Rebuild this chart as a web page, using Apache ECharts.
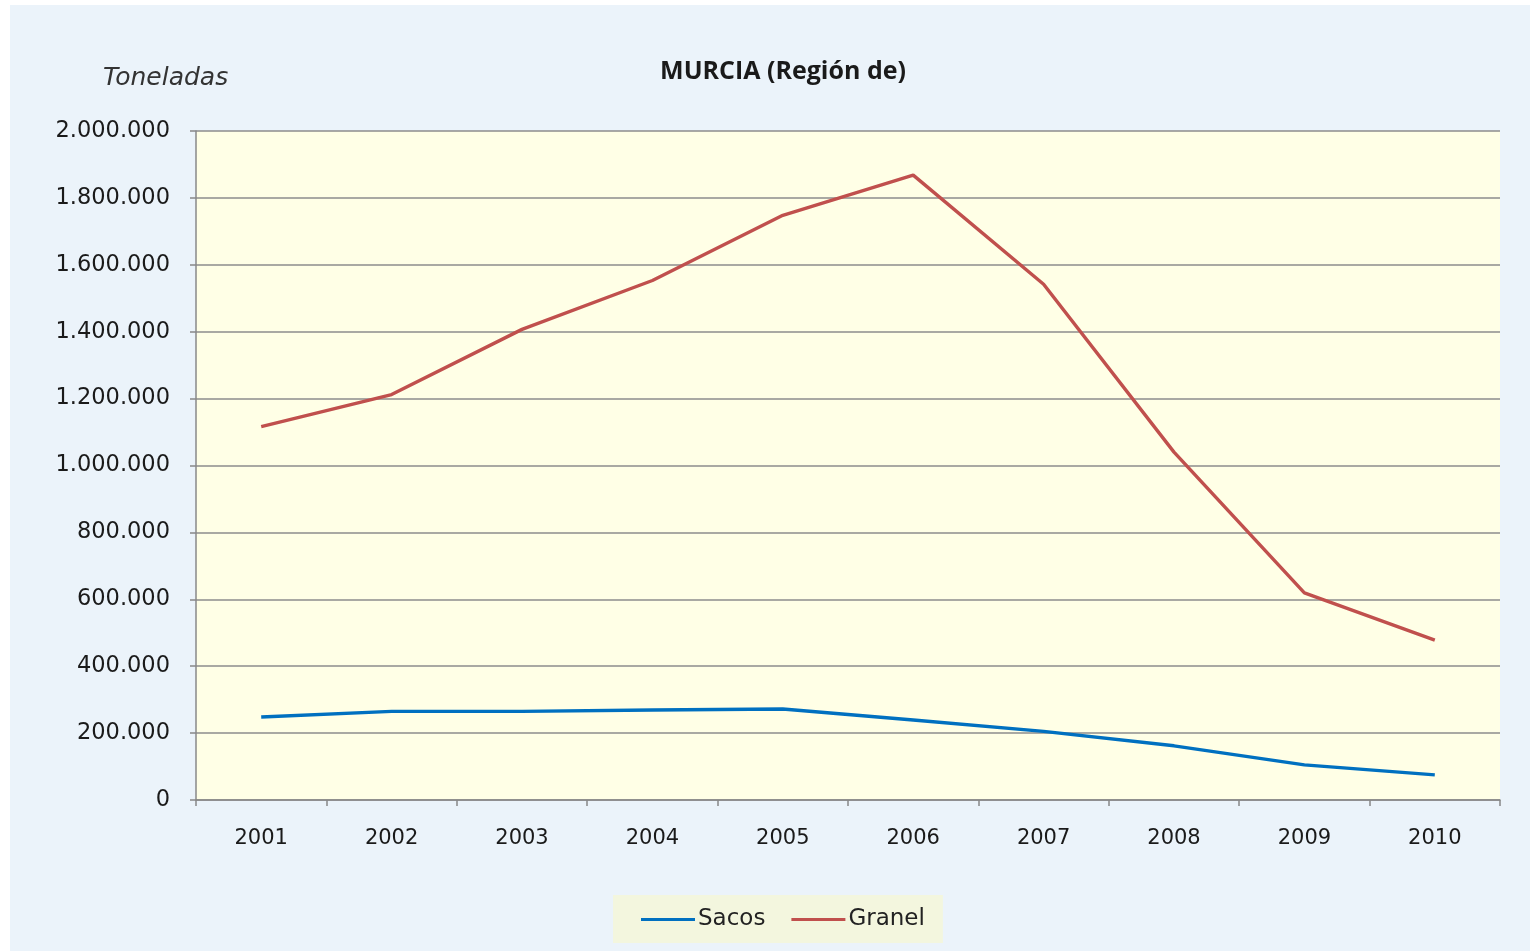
<!DOCTYPE html>
<html>
<head>
<meta charset="utf-8">
<title>MURCIA (Región de)</title>
<script src="https://cdn.jsdelivr.net/npm/echarts@6/dist/echarts.min.js"></script>
<style>
  html, body { margin: 0; padding: 0; background: #fff; }
  #chart { width: 1530px; height: 951px; }
</style>
</head>
<body>
<div id="chart"></div>
<script>
// datos (toneladas)
var years = ["2001", "2002", "2003", "2004", "2005", "2006", "2007", "2008", "2009", "2010"];
var sacos = [248000, 265000, 265000, 269000, 272000, 239000, 205000, 162000, 105000, 75000];
var granel = [1116000, 1212000, 1407000, 1553000, 1748000, 1868000, 1542000, 1040000, 619000, 478000];
var seriesNames = ["Sacos", "Granel"];

var chart = echarts.init(document.getElementById("chart"));

function fmt(v) {
  return String(v).replace(/\B(?=(\d{3})+(?!\d))/g, ".");
}

var option = {
  backgroundColor: "#ffffff",
  animation: false,
  textStyle: { fontFamily: "DejaVu Sans" },
  graphic: [
    {
      type: "rect",
      z: -10,
      shape: { x: 10, y: 5, width: 1520, height: 946 },
      style: { fill: "#EBF3FA" }
    },
    {
      type: "text",
      left: 103,
      top: 66,
      style: {
        text: "Toneladas",
        fill: "#333",
        font: "italic 25px 'DejaVu Sans'"
      }
    }
  ],
  title: {
    text: "MURCIA (Región de)",
    left: 778,
    textAlign: "center",
    top: 54,
    textStyle: {
      fontFamily: "Open Sans",
      fontWeight: "bold",
      fontSize: 25,
      color: "#1a1a1a"
    }
  },
  grid: {
    left: 196,
    right: 30,
    top: 131,
    bottom: 151,
    show: true,
    backgroundColor: "#FFFFE6",
    borderWidth: 0
  },
  legend: {
    left: 613,
    top: 895,
    data: seriesNames,
    icon: "rect",
    itemWidth: 54,
    itemHeight: 3,
    itemGap: 26,
    padding: [13, 18, 12, 28],
    backgroundColor: "#F3F6DE",
    textStyle: { fontSize: 23, color: "#222", padding: [0, 0, 0, -2] }
  },
  xAxis: {
    type: "category",
    data: years,
    boundaryGap: true,
    axisLine: { lineStyle: { color: "#888", width: 1.5 } },
    axisTick: { show: true, length: 6, lineStyle: { color: "#888", width: 1.5 } },
    axisLabel: { fontSize: 21, color: "#1a1a1a", margin: 28 }
  },
  yAxis: {
    type: "value",
    min: 0,
    max: 2000000,
    interval: 200000,
    axisLine: { show: true, lineStyle: { color: "#888", width: 1.5 } },
    axisTick: { show: true, length: 6, lineStyle: { color: "#888", width: 1.5 } },
    splitLine: { lineStyle: { color: "#8C8C8C", width: 1.5 } },
    axisLabel: {
      fontSize: 22.5,
      color: "#1a1a1a",
      margin: 26,
      formatter: fmt
    }
  },
  series: [
    {
      name: seriesNames[0],
      type: "line",
      data: sacos,
      showSymbol: false,
      symbol: "none",
      lineStyle: { color: "#0070C0", width: 3.4 },
      itemStyle: { color: "#0070C0" }
    },
    {
      name: seriesNames[1],
      type: "line",
      data: granel,
      showSymbol: false,
      symbol: "none",
      lineStyle: { color: "#C0504D", width: 3.4 },
      itemStyle: { color: "#C0504D" }
    }
  ]
};

chart.setOption(option);
window.addEventListener("resize", function () {
  chart.resize();
});
</script>
</body>
</html>
